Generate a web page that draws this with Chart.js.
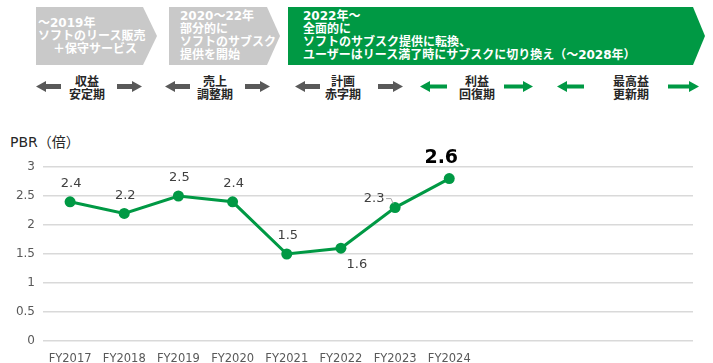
<!DOCTYPE html>
<html>
<head>
<meta charset="utf-8">
<script src="https://cdn.jsdelivr.net/npm/chart.js@4"></script>
<style>
    html, body { margin: 0; padding: 0; background: #fff; }
    body { width: 713px; height: 363px; position: relative; overflow: hidden;
           font-family: "DejaVu Sans", "Noto Sans CJK JP", sans-serif; }
    .banner { position: absolute; color: #fff; font-weight: bold; font-size: 12px; line-height: 13px; }
    .banner div { white-space: nowrap; }
    .gray { background: #c9c9c9; }
    .green { background: #009944; }
    .phase { position: absolute; width: 80px; text-align: center; font-weight: bold;
             font-size: 12px; line-height: 13px; color: #262626; }
    svg.arr { position: absolute; }
    #title { position: absolute; left: 10px; top: 131px; font-size: 14px; color: #262626; }
    #wrap { position: absolute; left: 0; top: 120px; width: 713px; height: 243px; }
</style>
</head>
<body>

<div class="banner gray" style="left:36px;top:7px;width:121px;height:58px;clip-path:polygon(0 0,107px 0,121px 29px,107px 58px,0 58px);">
    <div style="padding:10px 0 0 2px;">～2019年</div>
    <div style="padding-left:2px;">ソフトのリース販売</div>
    <div style="padding-left:17px;">＋保守サービス</div>
</div>
<div class="banner gray" style="left:169px;top:7px;width:111px;height:58px;clip-path:polygon(0 0,98px 0,111px 29px,98px 58px,0 58px);">
    <div style="padding:3px 0 0 11px;">2020～22年</div>
    <div style="padding-left:11px;">部分的に</div>
    <div style="padding-left:11px;">ソフトのサブスク</div>
    <div style="padding-left:11px;">提供を開始</div>
</div>
<div class="banner green" style="left:288px;top:7px;width:417px;height:58px;clip-path:polygon(0 0,405px 0,417px 29px,405px 58px,0 58px);">
    <div style="padding:3px 0 0 15px;">2022年～</div>
    <div style="padding-left:15px;">全面的に</div>
    <div style="padding-left:15px;">ソフトのサブスク提供に転換、</div>
    <div style="padding-left:15px;">ユーザーはリース満了時にサブスクに切り換え（～2028年）</div>
</div>

<div class="phase" style="left:47px;top:76px;">収益<br>安定期</div>
<div class="phase" style="left:175px;top:76px;">売上<br>調整期</div>
<div class="phase" style="left:303px;top:76px;">計画<br>赤字期</div>
<div class="phase" style="left:437px;top:76px;">利益<br>回復期</div>
<div class="phase" style="left:591px;top:76px;">最高益<br>更新期</div>

<svg class="arr" style="left:36px;top:81px" width="26" height="11"><polygon points="0,5.5 10,0 10,3 25,3 25,8 10,8 10,11" fill="#595959"/></svg>
<svg class="arr" style="left:117px;top:81px" width="26" height="11"><polygon points="25,5.5 15,0 15,3 0,3 0,8 15,8 15,11" fill="#595959"/></svg>
<svg class="arr" style="left:165px;top:81px" width="26" height="11"><polygon points="0,5.5 10,0 10,3 25,3 25,8 10,8 10,11" fill="#595959"/></svg>
<svg class="arr" style="left:245px;top:81px" width="26" height="11"><polygon points="25,5.5 15,0 15,3 0,3 0,8 15,8 15,11" fill="#595959"/></svg>
<svg class="arr" style="left:295px;top:81px" width="26" height="11"><polygon points="0,5.5 10,0 10,3 25,3 25,8 10,8 10,11" fill="#595959"/></svg>
<svg class="arr" style="left:378px;top:81px" width="26" height="11"><polygon points="25,5.5 15,0 15,3 0,3 0,8 15,8 15,11" fill="#595959"/></svg>
<svg class="arr" style="left:420px;top:81px" width="28" height="11"><polygon points="0,5.5 10,0 10,3.5 27,3.5 27,7.5 10,7.5 10,11" fill="#009944"/></svg>
<svg class="arr" style="left:504px;top:81px" width="30" height="11"><polygon points="29,5.5 19,0 19,3.5 0,3.5 0,7.5 19,7.5 19,11" fill="#009944"/></svg>
<svg class="arr" style="left:557px;top:81px" width="28" height="11"><polygon points="0,5.5 10,0 10,3.5 27,3.5 27,7.5 10,7.5 10,11" fill="#009944"/></svg>
<svg class="arr" style="left:668px;top:81px" width="32" height="11"><polygon points="31,5.5 21,0 21,3.5 0,3.5 0,7.5 21,7.5 21,11" fill="#009944"/></svg>

<div id="title">PBR（倍）</div>
<div id="wrap"><canvas id="pbrChart"></canvas></div>

<script>
// FY2025-FY2028 slots are empty on the axis
const years = ['FY2017', 'FY2018', 'FY2019', 'FY2020', 'FY2021', 'FY2022', 'FY2023', 'FY2024', '', '', '', ''];
const pbr = [2.4, 2.2, 2.5, 2.4, 1.5, 1.6, 2.3, 2.8];
const pbrLabels = ['2.4', '2.2', '2.5', '2.4', '1.5', '1.6', '2.3', '2.6'];
const labelPlace = ['above', 'above', 'above', 'above', 'above', 'belowRight', 'leftLeader', 'bigAbove'];

const green = '#009944';
const fontFamily = '"DejaVu Sans", "Noto Sans CJK JP", sans-serif';

const valueLabels = {
    id: 'valueLabels',
    afterDatasetsDraw(chart) {
        const ctx = chart.ctx;
        const meta = chart.getDatasetMeta(0);
        ctx.save();
        ctx.textAlign = 'center';
        ctx.textBaseline = 'middle';
        meta.data.forEach(function(pt, i) {
            const x = pt.x, y = pt.y;
            const place = labelPlace[i];
            ctx.fillStyle = '#404040';
            ctx.font = '13px ' + fontFamily;
            if (place === 'above') {
                ctx.fillText(pbrLabels[i], x + 1, y - 18);
            } else if (place === 'belowRight') {
                ctx.fillText(pbrLabels[i], x + 16, y + 16);
            } else if (place === 'leftLeader') {
                ctx.fillText(pbrLabels[i], x - 21, y - 9);
                ctx.strokeStyle = '#a6a6a6';
                ctx.lineWidth = 1;
                ctx.beginPath();
                ctx.moveTo(x - 9, y - 9);
                ctx.lineTo(x - 4, y - 9);
                ctx.lineTo(x - 2, y - 4);
                ctx.stroke();
            } else if (place === 'bigAbove') {
                ctx.fillStyle = '#000';
                ctx.font = 'bold 19px ' + fontFamily;
                ctx.fillText(pbrLabels[i], x - 8, y - 21);
            }
        });
        ctx.restore();
    }
};

new Chart(document.getElementById('pbrChart'), {
    type: 'line',
    data: {
        labels: years,
        datasets: [{
            data: pbr,
            borderColor: green,
            backgroundColor: green,
            borderWidth: 3,
            pointRadius: 5.5,
            pointHoverRadius: 5.5,
            pointBackgroundColor: green,
            pointBorderWidth: 0,
            tension: 0
        }]
    },
    options: {
        responsive: true,
        maintainAspectRatio: false,
        animation: false,
        layout: {
            padding: { top: 47, right: 20, bottom: 0, left: 0 }
        },
        plugins: {
            legend: { display: false },
            tooltip: { enabled: false }
        },
        scales: {
            x: {
                offset: true,
                grid: { display: false },
                border: { display: false },
                ticks: {
                    color: '#595959',
                    font: { size: 11.5, family: fontFamily },
                    maxRotation: 0,
                    autoSkip: false,
                    padding: 3
                },
                afterFit: function(scale) { scale.height = 22; }
            },
            y: {
                min: 0,
                max: 3,
                ticks: {
                    stepSize: 0.5,
                    color: '#595959',
                    font: { size: 12, family: fontFamily },
                    padding: 8,
                    callback: function(value) { return String(value); }
                },
                grid: { color: '#d9d9d9', lineWidth: 1.5, drawTicks: false },
                border: { display: false },
                afterFit: function(scale) { scale.width = 43; }
            }
        }
    },
    plugins: [valueLabels]
});
</script>
</body>
</html>
